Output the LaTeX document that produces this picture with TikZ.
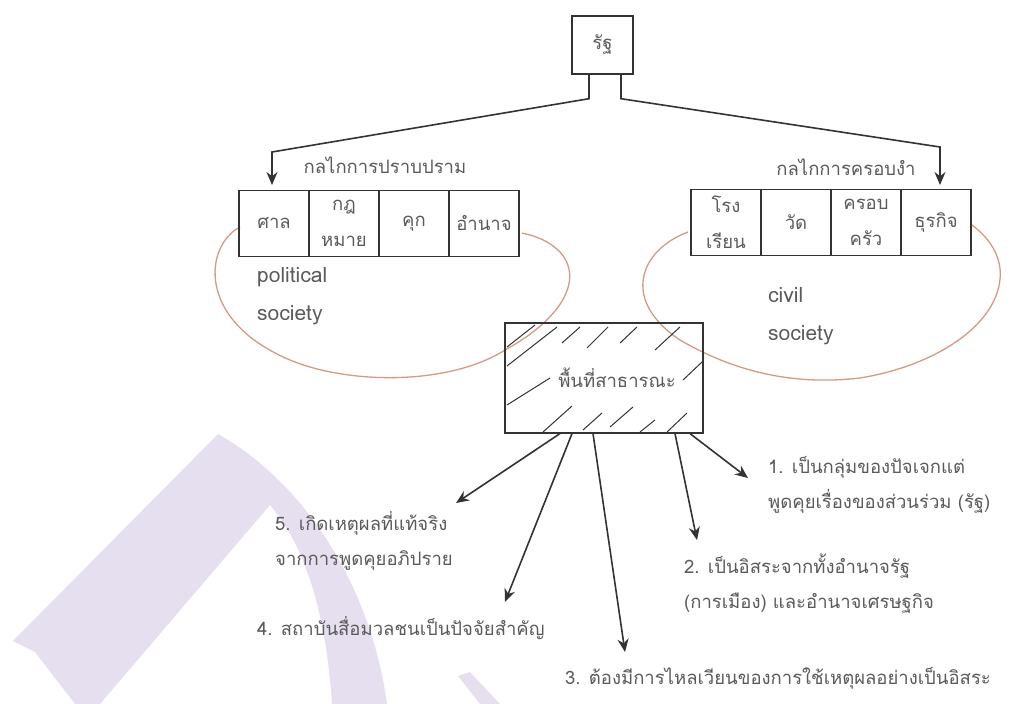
\documentclass[tikz,border=0pt]{standalone}
\usepackage{fontspec}
\setmainfont{Loma}[Script=Thai]
\usetikzlibrary{positioning,arrows.meta}
\definecolor{loopc}{HTML}{D49A84}
\definecolor{wmc}{HTML}{E6DFF0}
\definecolor{txtc}{HTML}{5A5A5A}
\definecolor{linec}{HTML}{333333}

\begin{document}
\begin{tikzpicture}[%
		x=1pt, y=-1pt,
		>={Stealth[length=13pt,width=11pt]},
		font=\fontsize{18.5}{22}\selectfont,
		cell/.style={%
			draw=linec,
			line width=1.2pt,
			minimum width=70pt,
			minimum height=66pt,
			inner sep=1pt,
			outer sep=0pt,
			align=center,
			text=txtc,
			font=\fontsize{18.5}{36}\selectfont
		},
		item/.style={%
			text=txtc,
			align=left,
			anchor=west,
			inner sep=0pt,
			font=\fontsize{18.5}{35}\selectfont
		},
		conn/.style={draw=linec, line width=1.6pt, ->},
		hatch/.style={linec, line width=1pt}
		]
		\useasboundingbox (0,0) rectangle (1013,704);
		% watermark
		\fill[wmc] (218,434) .. controls (300,480) and (370,580) .. (387,704) -- (332,704)
			.. controls (325,600) and (300,540) .. (270,505) -- (100,704) -- (75,704)
			-- (35,652) -- (13,641) -- cycle;
		\fill[wmc] (458,676) -- (470,672) -- (500,704) -- (480,704) -- cycle;

		% loops
		\draw[loopc, line width=1.3pt] (240,227) .. controls (205,245) and (195,320) .. (290,360)
			.. controls (350,385) and (450,385) .. (505,350)
			.. controls (560,320) and (585,280) .. (560,252)
			.. controls (548,240) and (535,236) .. (522,233);
		\draw[loopc, line width=1.3pt] (688,232) .. controls (640,250) and (620,300) .. (680,340)
			.. controls (740,375) and (800,385) .. (860,378)
			.. controls (940,365) and (1005,320) .. (1000,268)
			.. controls (997,248) and (985,235) .. (972,225);

		\node[draw=linec, line width=1.4pt, minimum width=61pt, minimum height=58pt, text=txtc] (s) at (602.5,45) {รัฐ};

		\node[cell] (l1) at (274,223.5)    {ศาล};
		\node[cell] (l2) [right=0pt of l1] {กฎ\\หมาย};
		\node[cell] (l3) [right=0pt of l2] {คุก};
		\node[cell] (l4) [right=0pt of l3] {อำนาจ};

		\node[cell] (r1) at (726,222.5)    {โรง\\เรียน};
		\node[cell] (r2) [right=0pt of r1] {วัด};
		\node[cell] (r3) [right=0pt of r2] {ครอบ\\ครัว};
		\node[cell] (r4) [right=0pt of r3] {ธุรกิจ};

		\node[text=txtc] (lm) at (385,165) {กลไกการปราบปราม};
		\node[text=txtc] (rm) at (846,167) {กลไกการครอบงำ};

		\node[item, font=\fontsize{21}{38}\selectfont] (ps) at (257,296) {political\\society};
		\node[item, font=\fontsize{21}{38}\selectfont] (cs) at (768,316) {civil\\society};

		\coordinate (la) at (272,152);
		\coordinate (lt) at (272,185);
		\coordinate (ra) at (940,147);
		\coordinate (rt) at (940,185);
		\draw[conn] ([xshift=-13.5]s.south) -- ++(0,24) -- (la) -- (lt);
		\draw[conn] ([xshift=18.5]s.south) -- ++(0,24) -- (ra) -- (rt);

		% public sphere
		\node[draw=linec, line width=1.2pt, minimum width=198pt, minimum height=110pt, text=txtc] (pub) at (604,378) {\hspace{26pt}พื้นที่สาธารณะ};
		\foreach \a/\b/\c/\d in {562/343/580/327, 587/348/608/327, 620/343/637/327, 655/350/680/327,
				507/347/535/325, 507/366/557/327, 507/405/550/378, 683/380/702/362,
				543/432/572/406, 583/430/602/413, 610/427/633/407, 640/432/655/420, 667/432/687/413}
			\draw[hatch] (\a,\b) -- (\c,\d);

		\node[item] (t1) at (768,485) {1. เป็นกลุ่มของปัจเจกแต่\\พูดคุยเรื่องของส่วนร่วม (รัฐ)};
		\node[item] (t2) at (684,584) {2. เป็นอิสระจากทั้งอำนาจรัฐ\\(การเมือง) และอำนาจเศรษฐกิจ};
		\node[item] (t3) at (565,678) {3. ต้องมีการไหลเวียนของการใช้เหตุผลอย่างเป็นอิสระ};
		\node[item] (t4) at (257,628) {4. สถาบันสื่อมวลชนเป็นปัจจัยสำคัญ};
		\node[item] (t5) at (275,541) {5. เกิดเหตุผลที่แท้จริง\\จากการพูดคุยอภิปราย};

		\coordinate (e1) at (748,478);
		\coordinate (e2) at (697,540);
		\coordinate (e3) at (625,652);
		\coordinate (e4) at (505,602);
		\coordinate (e5) at (456,503);
		\draw[conn] ([xshift=86]pub.south) -- (e1);
		\draw[conn] ([xshift=71]pub.south) -- (e2);
		\draw[conn] ([xshift=-11]pub.south) -- (e3);
		\draw[conn] ([xshift=-32]pub.south) -- (e4);
		\draw[conn] ([xshift=-44]pub.south) -- (e5);
\end{tikzpicture}
\end{document}
